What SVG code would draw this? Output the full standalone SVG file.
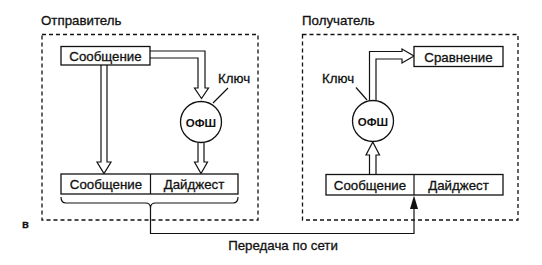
<svg xmlns="http://www.w3.org/2000/svg" width="542" height="265" viewBox="0 0 542 265">
<defs>
<style>
text{font-family:"Liberation Sans",Arial,sans-serif;font-size:13.3px;fill:#111;stroke:#111;stroke-width:0.3}
.c{text-anchor:middle}
.box{fill:#fff;stroke:#111;stroke-width:1.3}
.dash{fill:none;stroke:#111;stroke-width:1.3;stroke-dasharray:4,3}
.ha{fill:#fff;stroke:#111;stroke-width:1.2;stroke-linejoin:miter}
.ln{fill:none;stroke:#111;stroke-width:1.2}
.fh{fill:#111;stroke:none}
</style>
</defs>
<rect width="542" height="265" fill="#fff"/>

<g id="sender">
<text x="41" y="25">Отправитель</text>
<rect class="dash" x="42" y="34.5" width="216" height="185.5"/>
</g>
<g id="receiver">
<text x="302" y="25">Получатель</text>
<rect class="dash" x="302.5" y="34.5" width="215.5" height="185.5"/>
</g>
<text id="label-v" x="22" y="228" style="font-weight:bold;font-size:11px">в</text>

<g id="connectors">
<path class="ha" d="M150,51 L205,51 L205,88 L208.5,88 L201.5,98.5 L194.5,88 L198,88 L198,58 L150,58"/>
<path class="ha" d="M101,65 L101,162 L97,162 L104,173.5 L111,162 L107,162 L107,65"/>
<path class="ha" d="M198,143 L198,162 L194.5,162 L201,173.5 L207.5,162 L204,162 L204,143"/>
<path class="ln" d="M228,88 L213,103"/>
<path class="ln" d="M61,197 Q61,203 66,203 L145.5,203 Q150.5,203 150.5,208 Q150.5,203 155.5,203 L233,203 Q238,203 238,197"/>
<path class="ln" d="M150.5,208 L150.5,233.5 L414,233.5 L414,207"/>
<path class="fh" d="M410,209 L414,195.5 L418,209 Z"/>
<path class="ha" d="M369.5,174 L369.5,155 L366,155 L372.75,142 L379.5,155 L376,155 L376,174"/>
<path class="ha" d="M369.5,101 L369.5,51.5 L402,51.5 L402,49 L414,56 L402,63 L402,59 L376,59 L376,101"/>
<path class="ln" d="M356,87.5 L367,100"/>
</g>

<g id="s-msg">
<rect class="box" x="61" y="46.5" width="89" height="18.5"/>
<text class="c" x="105.5" y="61">Сообщение</text>
</g>
<g id="s-hash">
<circle class="box" cx="201" cy="122" r="20.5"/>
<text class="c" x="201" y="126.5" style="font-weight:bold;font-size:11.5px;stroke-width:0">ОФШ</text>
</g>
<g id="s-key"><text x="218" y="83">Ключ</text></g>
<g id="s-packet">
<rect class="box" x="61" y="174" width="177" height="20"/>
<line class="ln" x1="150.5" y1="174" x2="150.5" y2="194"/>
<text class="c" x="106" y="189">Сообщение</text>
<text class="c" x="194" y="189">Дайджест</text>
</g>

<g id="r-compare">
<rect class="box" x="414" y="46.5" width="89" height="20"/>
<text class="c" x="458.5" y="61.5">Сравнение</text>
</g>
<g id="r-hash">
<circle class="box" cx="373" cy="121" r="20.5"/>
<text class="c" x="373" y="125.5" style="font-weight:bold;font-size:11.5px;stroke-width:0">ОФШ</text>
</g>
<g id="r-key"><text x="322" y="83">Ключ</text></g>
<g id="r-packet">
<rect class="box" x="326" y="174.5" width="177" height="20.5"/>
<line class="ln" x1="414" y1="174.5" x2="414" y2="195"/>
<text class="c" x="370" y="189.5">Сообщение</text>
<text class="c" x="458.5" y="189.5">Дайджест</text>
</g>

<text id="net-label" class="c" x="283" y="250">Передача по сети</text>
</svg>
